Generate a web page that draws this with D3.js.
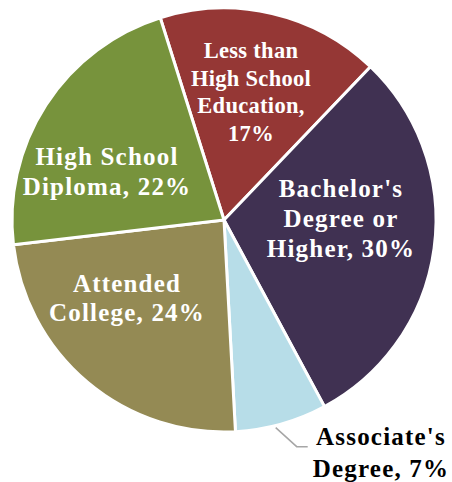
<!DOCTYPE html>
<html>
<head>
<meta charset="utf-8">
<script src="https://cdn.jsdelivr.net/npm/d3@7/dist/d3.min.js"></script>
<style>
  html, body { margin: 0; padding: 0; background: #fff; }
  svg { display: block; }
  text { font-family: "Liberation Serif", "Times New Roman", serif; font-weight: bold; }
</style>
</head>
<body>
<svg id="chart" width="452" height="482"></svg>
<script>
// Educational attainment shares, clockwise from the top-left slice edge
const categories = ["Less than High School Education", "Bachelor's Degree or Higher", "Associate's Degree", "Attended College", "High School Diploma"];
const values = [17, 30, 7, 24, 22];
const labelLines = [
  ["Less than", "High School", "Education,", "17%"],
  ["Bachelor's", "Degree or", "Higher, 30%"],
  ["Associate's", "Degree, 7%"],
  ["Attended", "College, 24%"],
  ["High School", "Diploma, 22%"]
];
const colors = ["#953735", "#403152", "#b7dde8", "#948a54", "#77933c"];

const svg = d3.select("#chart");
const cx = 224, cy = 220, r = 212;
const start = -17.5 * Math.PI / 180;

const pie = d3.pie().sort(null).value(d => d)
  .startAngle(start).endAngle(start + 2 * Math.PI);
const arcs = pie(values);
const arc = d3.arc().innerRadius(0).outerRadius(r);

const g = svg.append("g").attr("transform", `translate(${cx},${cy})`);

g.selectAll("path.slice").data(arcs).enter().append("path")
  .attr("class", "slice")
  .attr("d", arc)
  .attr("fill", (d, i) => colors[i])
  .attr("stroke", "#fff")
  .attr("stroke-width", 3)
  .attr("stroke-linejoin", "round");

// Label placement: [centre x, first baseline, line height, font size, letter spacing, colour]
const labelStyle = [
  [251, 58, 27.5, 22.5, 0.3, "#fff"],
  [341, 197, 30, 25, 1.2, "#fff"],
  [381, 445, 32, 25, 1.2, "#000"],
  [127, 292, 29, 25, 1.2, "#fff"],
  [107, 165, 30, 25, 1.2, "#fff"]
];

labelLines.forEach((lines, i) => {
  const [x, y, lh, fs, ls, fill] = labelStyle[i];
  const t = svg.append("text")
    .attr("text-anchor", "middle")
    .attr("font-size", fs)
    .attr("letter-spacing", ls)
    .attr("fill", fill);
  lines.forEach((ln, j) => {
    t.append("tspan").attr("x", x).attr("y", y + j * lh).text(ln);
  });
});

// Leader line for the small slice
const a = arcs[2];
const mid = (a.startAngle + a.endAngle) / 2 + 0.03;
const px = cx + Math.sin(mid) * (r + 2), py = cy - Math.cos(mid) * (r + 2);
svg.append("polyline")
  .attr("points", `${px},${py} ${px + 21},${py + 19} ${px + 32},${py + 19}`)
  .attr("fill", "none")
  .attr("stroke", "#a6a6a6")
  .attr("stroke-width", 1.5);
</script>
</body>
</html>
